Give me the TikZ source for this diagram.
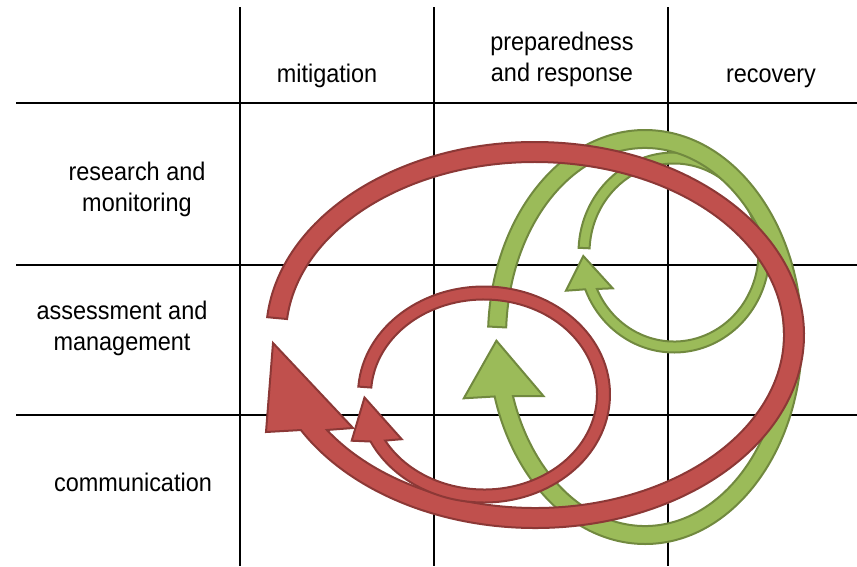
\documentclass[tikz,border=0pt]{standalone}
\usepackage{fontspec}
\setmainfont{Liberation Sans}[FakeStretch=0.92]
\usetikzlibrary{calc}
\definecolor{redfill}{HTML}{C0504D}
\definecolor{redline}{HTML}{8C3836}
\definecolor{greenfill}{HTML}{9BBB59}
\definecolor{greenline}{HTML}{71893F}

\begin{document}
\begin{tikzpicture}[x=1pt, y=-1pt,
    head/.style={font=\fontsize{25.5}{31}\selectfont, align=center, inner sep=0pt},
    rule/.style={line width=1.4pt, black},
    redband/.style={fill=redfill, draw=redline, line width=2pt},
    greenband/.style={fill=greenfill, draw=greenline, line width=2pt}]
    \useasboundingbox (0,0) rectangle (857,566);
    % table
    \foreach \x in {240,434,668} \draw[rule] (\x,7) -- (\x,566);
    \foreach \y in {103,265,415} \draw[rule] (16,\y) -- (857,\y);
    % column and row labels
    \node[head] (mitigation) at (327,75.5) {mitigation};
    \node[head] (preparedness) at (562,59) {preparedness\\and response};
    \node[head] (recovery) at (771,78) {recovery};
    \node[head] (research) at (137,189) {research and\\monitoring};
    \node[head] (assessment) at (122,328) {assessment and\\management};
    \node[head] (communication) at (133,482) {communication};
    % centres of the loops
    \coordinate (smallgreen) at (674,252.5);
    \coordinate (biggreen) at (645,337);
    \coordinate (bigred) at (535,335);
    \coordinate (smallred) at (484,394.5);
    % green loops
    \draw[greenband] ($(smallgreen)+(182.7:95.5 and 100)$)
        arc[start angle=182.7, end angle=518.4, x radius=95.5, y radius=100]
        -- (566,290.7) -- (583.3,256) -- (612.7,288.3)
        -- ($(smallgreen)+(515.8:84.5 and 89)$)
        arc[start angle=515.8, end angle=182.7, x radius=84.5, y radius=89] -- cycle;
    \draw[greenband] ($(biggreen)+(182.9:157 and 207)$)
        arc[start angle=182.9, end angle=523.3, x radius=157, y radius=207]
        -- (463.8,398.3) -- (496.4,340.7) -- (543.4,396)
        -- ($(biggreen)+(521.8:139 and 189)$)
        arc[start angle=521.8, end angle=182.9, x radius=139, y radius=189] -- cycle;
    % red loops
    \draw[redband] ($(bigred)+(185.3:269 and 193)$)
        arc[start angle=185.3, end angle=510.5, x radius=269, y radius=193]
        -- (266,432) -- (273,343) -- (353,428)
        -- ($(bigred)+(506.7:249 and 173)$)
        arc[start angle=506.7, end angle=185.3, x radius=249, y radius=173] -- cycle;
    \draw[redband] ($(smallred)+(184.2:126 and 108)$)
        arc[start angle=184.2, end angle=514.2, x radius=126, y radius=108]
        -- (351.7,440.7) -- (364.5,397.5) -- (401.7,439.2)
        -- ($(smallred)+(511:113 and 95)$)
        arc[start angle=511, end angle=184.2, x radius=113, y radius=95] -- cycle;
\end{tikzpicture}
\end{document}
